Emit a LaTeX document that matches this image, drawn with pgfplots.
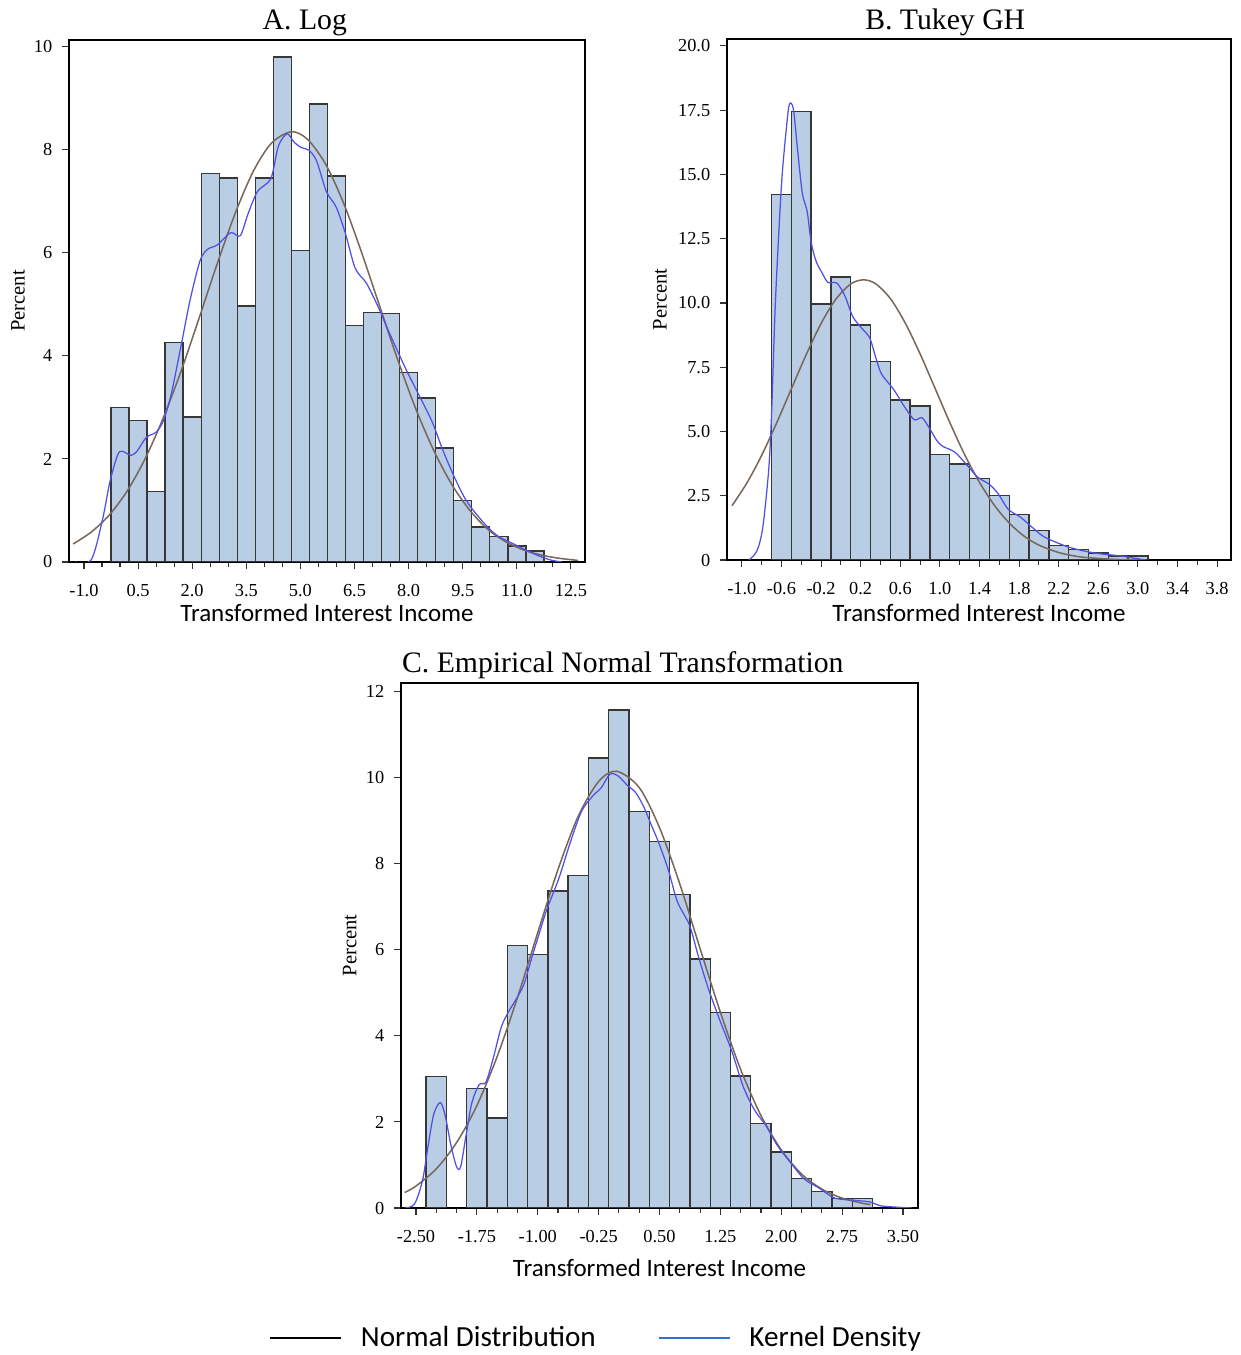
\documentclass[border=0pt]{standalone}
\usepackage{fontspec}
\setmainfont{Liberation Serif}
\newfontfamily\calibri{Carlito}
\usepackage{pgfplots}
\pgfplotsset{compat=1.18}

\definecolor{barfill}{RGB}{185,205,229}
\definecolor{baredge}{RGB}{55,55,55}
\definecolor{normcol}{RGB}{120,104,92}
\definecolor{kerncol}{RGB}{80,80,228}
\definecolor{legblue}{RGB}{46,117,208}

\pgfplotsset{
  histo/.style={
    scale only axis,
    axis line style={black, line width=0.5pt},
    tick align=outside, xtick pos=bottom, ytick pos=left,
    major tick length=2.5pt, minor tick length=1.8pt,
    tick style={black!80, line width=0.4pt},
    ymin=0,
    every axis title shift=0pt,
    ticklabel style={font=\fontsize{6.6}{7}\selectfont},
    xticklabel style={yshift=-2pt},
    xlabel={Transformed Interest Income},
    ylabel={Percent},
    xlabel style={font=\calibri\fontsize{9}{10}\selectfont, anchor=center},
    ylabel style={font=\fontsize{7.4}{8}\selectfont, anchor=center},
    title style={font=\fontsize{10.7}{12}\selectfont, anchor=center},
  },
  bars/.style={ybar, bar shift=0pt, fill=barfill, draw=baredge, line width=0.5pt},
  normline/.style={normcol, line width=0.55pt, smooth, no markers},
  kernline/.style={kerncol, line width=0.45pt, smooth, no markers},
}

\begin{document}
\begin{tikzpicture}
\useasboundingbox (0,0) rectangle (446.76pt,487.8pt);

% ---------------- A. Log
\begin{axis}[histo,
  at={(24.84pt,285.48pt)}, anchor=south west,
  width=185.76pt, height=187.92pt,
  xmin=-1.415, xmax=12.89, ymax=10.13,
  xtick={-1,0.5,2,3.5,5,6.5,8,9.5,11,12.5},
  xticklabels={-1.0,0.5,2.0,3.5,5.0,6.5,8.0,9.5,11.0,12.5},
  minor x tick num=2,
  ytick={0,2,4,6,8,10},
  yticklabels={0,2,4,6,8,10},
  title={A. Log},
  title style={at={(axis description cs:0.457,1.032)}},
  xlabel style={at={(axis description cs:0.5,-0.098)}},
  ylabel style={at={(axis description cs:-0.099,0.5)}},
]
\addplot[bars, bar width=0.5] coordinates {
  (0,3.00) (0.5,2.75) (1,1.37) (1.5,4.26) (2,2.81) (2.5,7.54) (3,7.45) (3.5,4.97)
  (4,7.45) (4.5,9.80) (5,6.04) (5.5,8.89) (6,7.49) (6.5,4.59) (7,4.84) (7.5,4.82)
  (8,3.68) (8.5,3.18) (9,2.21) (9.5,1.19) (10,0.68) (10.5,0.49) (11,0.31) (11.5,0.21)
};
\addplot[normline] coordinates {
  (-1.3,0.35) (-0.8,0.58) (-0.3,0.91) (0.2,1.38) (0.7,2.01) (1.2,2.80) (1.7,3.72)
  (2.2,4.75) (2.7,5.80) (3.2,6.78) (3.7,7.59) (4.2,8.13) (4.75,8.35) (5.2,8.20)
  (5.7,7.72) (6.2,6.96) (6.7,6.00) (7.2,4.96) (7.7,3.92) (8.2,2.97) (8.7,2.16)
  (9.2,1.50) (9.7,1.00) (10.2,0.63) (10.7,0.39) (11.2,0.23) (11.7,0.13) (12.2,0.07) (12.7,0.03)
};
\addplot[kernline] coordinates {
  (-1.25,0) (-0.8,0.04) (-0.49,0.81) (-0.28,1.56) (-0.07,2.07) (0.06,2.15) (0.30,2.07)
  (0.47,2.15) (0.73,2.42) (1.0,2.52) (1.2,2.74) (1.42,3.26) (1.72,4.3) (1.95,5.11)
  (2.22,5.85) (2.43,6.07) (2.69,6.15) (3.07,6.39) (3.33,6.33) (3.54,6.74) (3.81,7.19)
  (4.18,7.44) (4.39,8.07) (4.63,8.31) (4.82,8.15) (5.03,8.04) (5.24,7.99) (5.45,7.78)
  (5.72,7.19) (5.99,6.89) (6.25,6.37) (6.52,5.70) (6.83,5.41) (7.15,4.96) (7.47,4.44)
  (7.9,3.78) (8.22,3.33) (8.64,2.74) (8.96,2.15) (9.28,1.63) (9.6,1.19) (10.02,0.81)
  (10.44,0.52) (10.97,0.33) (11.5,0.15) (11.93,0.04) (12.25,0)
};
\end{axis}

% ---------------- B. Tukey GH
\begin{axis}[histo,
  at={(261.72pt,286.2pt)}, anchor=south west,
  width=181.44pt, height=187.56pt,
  xmin=-1.15, xmax=3.94, ymax=20.27,
  xtick={-1,-0.6,-0.2,0.2,0.6,1,1.4,1.8,2.2,2.6,3,3.4,3.8},
  xticklabels={-1.0,-0.6,-0.2,0.2,0.6,1.0,1.4,1.8,2.2,2.6,3.0,3.4,3.8},
  minor x tick num=1,
  ytick={0,2.5,5,7.5,10,12.5,15,17.5,20},
  yticklabels={0,2.5,5.0,7.5,10.0,12.5,15.0,17.5,20.0},
  title={B. Tukey GH},
  title style={at={(axis description cs:0.433,1.032)}},
  xlabel style={at={(axis description cs:0.5,-0.102)}},
  ylabel style={at={(axis description cs:-0.133,0.5)}},
]
\addplot[bars, bar width=0.2] coordinates {
  (-0.6,14.21) (-0.4,17.45) (-0.2,9.96) (0,11.01) (0.2,9.15) (0.4,7.73) (0.6,6.22)
  (0.8,5.99) (1.0,4.11) (1.2,3.74) (1.4,3.16) (1.6,2.52) (1.8,1.77) (2.0,1.14)
  (2.2,0.56) (2.4,0.42) (2.6,0.27) (2.8,0.16) (3.0,0.15)
};
\addplot[normline] coordinates {
  (-1.1,2.11) (-0.95,2.99) (-0.8,4.07) (-0.65,5.32) (-0.5,6.66) (-0.35,7.99) (-0.2,9.20)
  (-0.05,10.15) (0.1,10.74) (0.227,10.9) (0.35,10.75) (0.5,10.17) (0.65,9.22) (0.8,8.02)
  (0.95,6.69) (1.1,5.35) (1.25,4.10) (1.4,3.02) (1.55,2.13) (1.7,1.44) (1.85,0.93)
  (2.0,0.58) (2.2,0.29) (2.4,0.13) (2.6,0.06) (2.8,0.02) (3.0,0.01)
};
\addplot[kernline] coordinates {
  (-0.93,0) (-0.85,0.34) (-0.79,1.23) (-0.73,3.46) (-0.70,5.68) (-0.66,10.13) (-0.60,14.58)
  (-0.55,16.81) (-0.52,17.73) (-0.48,17.55) (-0.44,16.07) (-0.39,14.29) (-0.34,13.55)
  (-0.30,12.36) (-0.25,11.62) (-0.19,11.17) (-0.13,10.80) (-0.04,10.77) (0.04,10.28)
  (0.12,9.47) (0.21,9.02) (0.29,8.65) (0.35,7.91) (0.41,7.24) (0.53,6.65) (0.64,5.98)
  (0.74,5.46) (0.82,5.53) (0.90,5.09) (0.97,4.64) (1.03,4.42) (1.15,4.20) (1.26,3.75)
  (1.38,3.23) (1.50,2.94) (1.59,2.57) (1.69,1.97) (1.81,1.68) (1.92,1.31) (2.04,0.93)
  (2.16,0.71) (2.31,0.49) (2.47,0.34) (2.62,0.24) (2.82,0.16) (3.01,0.04) (3.08,0)
};
\end{axis}

% ---------------- C. Empirical Normal Transformation
\begin{axis}[histo,
  at={(144.36pt,52.92pt)}, anchor=south west,
  width=186.12pt, height=189pt,
  xmin=-2.685, xmax=3.685, ymax=12.2,
  xtick={-2.5,-1.75,-1,-0.25,0.5,1.25,2,2.75,3.5},
  xticklabels={-2.50,-1.75,-1.00,-0.25,0.50,1.25,2.00,2.75,3.50},
  minor x tick num=2,
  ytick={0,2,4,6,8,10,12},
  yticklabels={0,2,4,6,8,10,12},
  title={C. Empirical Normal Transformation},
  title style={at={(axis description cs:0.429,1.034)}},
  xlabel style={at={(axis description cs:0.5,-0.114)}},
  ylabel style={at={(axis description cs:-0.099,0.5)}},
  legend columns=2,
  legend style={at={(axis description cs:0.393,-0.248)}, anchor=center,
    draw=none, fill=none, font=\calibri\fontsize{10.5}{12}\selectfont,
    nodes={inner xsep=6.7pt},
    /tikz/every even column/.append style={column sep=15.5pt}},
  legend image code/.code={\draw[#1, line width=0.8pt] (0pt,0pt) -- (25.6pt,0pt);},
]
\addlegendimage{black}
\addlegendentry{Normal Distribution}
\addlegendimage{legblue}
\addlegendentry{Kernel Density}
\addplot[bars, bar width=0.25] coordinates {
  (-2.25,3.05) (-1.75,2.77) (-1.5,2.09) (-1.25,6.10) (-1.0,5.89) (-0.75,7.37)
  (-0.5,7.73) (-0.25,10.46) (0,11.57) (0.25,9.22) (0.5,8.51) (0.75,7.28) (1.0,5.79)
  (1.25,4.54) (1.5,3.07) (1.75,1.97) (2.0,1.30) (2.25,0.68) (2.5,0.39) (2.75,0.22) (3.0,0.22)
};
\addplot[normline] coordinates {
  (-2.64,0.36) (-2.5,0.51) (-2.25,0.91) (-2.0,1.52) (-1.75,2.38) (-1.5,3.52) (-1.25,4.89)
  (-1.0,6.40) (-0.75,7.87) (-0.5,9.11) (-0.25,9.91) (-0.03,10.15) (0.25,9.77) (0.5,8.84)
  (0.75,7.53) (1.0,6.03) (1.25,4.55) (1.5,3.22) (1.75,2.15) (2.0,1.35) (2.25,0.79)
  (2.5,0.44) (2.75,0.23) (3.0,0.11) (3.1,0.08)
};
\addplot[kernline] coordinates {
  (-2.64,0) (-2.52,0.09) (-2.42,0.64) (-2.35,1.46) (-2.28,2.19) (-2.20,2.45) (-2.14,2.14)
  (-2.07,1.46) (-2.0,0.96) (-1.95,0.96) (-1.88,1.73) (-1.81,2.46) (-1.72,2.87) (-1.64,2.92)
  (-1.55,3.47) (-1.45,4.20) (-1.36,4.56) (-1.27,4.84) (-1.17,5.20) (-1.07,5.84) (-0.98,6.39)
  (-0.89,6.93) (-0.74,7.66) (-0.60,8.49) (-0.46,9.22) (-0.32,9.58) (-0.22,9.76) (-0.11,10.08)
  (-0.01,10.04) (0.11,9.81) (0.20,9.67) (0.30,9.35) (0.39,8.94) (0.49,8.49) (0.61,7.85)
  (0.72,7.12) (0.87,6.57) (0.98,5.84) (1.10,5.11) (1.24,4.38) (1.39,3.65) (1.53,2.83)
  (1.67,2.28) (1.81,1.92) (1.95,1.46) (2.10,1.09) (2.28,0.68) (2.47,0.46) (2.66,0.23)
  (2.90,0.18) (3.09,0.14) (3.23,0.05) (3.42,0.02) (3.61,0)
};
\end{axis}
\end{tikzpicture}
\end{document}
